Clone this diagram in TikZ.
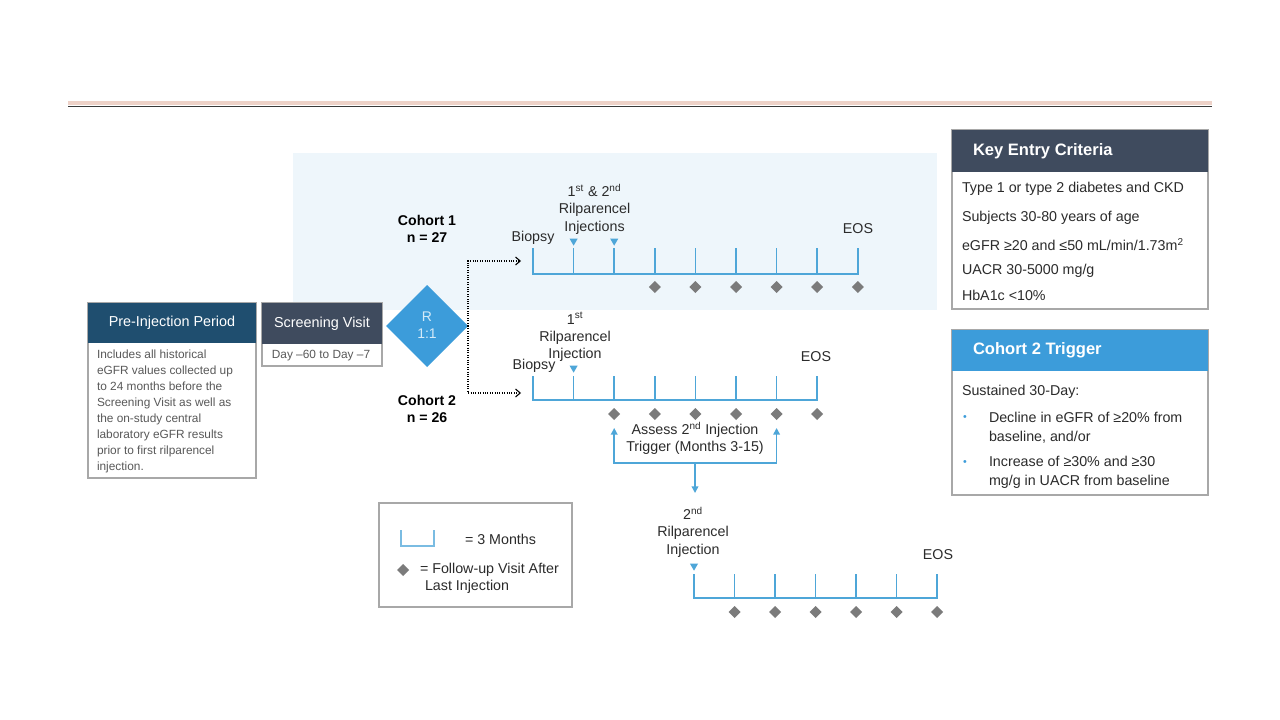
\documentclass[tikz,border=0pt]{standalone}
\usepackage{fontspec}
\setmainfont{Liberation Sans}
\usetikzlibrary{shapes.geometric,arrows.meta}
\definecolor{navyhdr}{HTML}{1F4E6F}
\definecolor{slatehdr}{HTML}{3F4B5E}
\definecolor{rblue}{HTML}{3C9CDA}
\definecolor{tlblue}{HTML}{4EA6D8}
\definecolor{bgblue}{HTML}{EEF6FB}
\definecolor{boxline}{HTML}{A8A8A8}
\definecolor{bodytxt}{HTML}{595959}
\definecolor{darktxt}{HTML}{2B2B2B}
\definecolor{dmdgray}{HTML}{7B7B7B}
\definecolor{pinkband}{HTML}{EED2C8}
\definecolor{ruledark}{HTML}{3A3A3A}
\definecolor{rtext}{HTML}{D4EAF8}
\newcommand\fsz[2]{\fontsize{#1pt}{#2pt}\selectfont}
\begin{document}
\begin{tikzpicture}[x=0.75pt,y=-0.75pt,
 every node/.style={inner sep=0pt,outer sep=0pt},
 boxframe/.style={draw=boxline,line width=0.8pt},
 hdrtext/.style={text=white,font=\fsz{10.8}{13}},
 hdrbold/.style={text=white,font=\bfseries\fsz{12.4}{15}},
 crit/.style={text=darktxt,font=\fsz{10.7}{13},anchor=west},
 tllabel/.style={text=darktxt,font=\fsz{10.7}{13},align=center},
 cohort/.style={text=black,font=\bfseries\fsz{10.6}{12.8},align=center},
 tl/.style={draw=tlblue,line width=1.1pt},
 fup/.style={diamond,fill=dmdgray,minimum width=9pt,minimum height=9pt},
 inj/.style={regular polygon,regular polygon sides=3,shape border rotate=180,fill=tlblue,minimum size=7pt},
 trig/.style={draw=tlblue,line width=1.1pt,-{Triangle[length=5pt,width=5pt]}},
 rand/.style={densely dotted,line width=0.8pt,-{Straight Barb[length=3.5pt,width=6pt]}}
]
\useasboundingbox (0,0) rectangle (1280,720);
\fill[white] (0,0) rectangle (1280,720);
% top rule
\fill[pinkband] (68,101) rectangle (1212,105.5);
\draw[ruledark,line width=1.1pt] (68,106.3) -- (1212,106.3);
% cohort 1 background
\fill[bgblue] (293,153) rectangle (937,310);

% Pre-injection period
\node[boxframe,minimum width=126pt,minimum height=131.25pt,anchor=north west] (preb) at (88,303) {};
\node[fill=navyhdr,minimum width=126pt,minimum height=30pt,anchor=north west,hdrtext] (preh) at (88,303) {Pre-Injection Period};
\node[anchor=north west,align=left,text=bodytxt,font=\fsz{8.9}{12}] (pret) at (97,349.5) {Includes all historical\\eGFR values collected up\\to 24 months before the\\Screening Visit as well as\\the on-study central\\laboratory eGFR results\\prior to first rilparencel\\injection.};

% Screening visit
\node[boxframe,minimum width=90pt,minimum height=47.25pt,anchor=north west] (scrb) at (262,303) {};
\node[fill=slatehdr,minimum width=90pt,minimum height=30.75pt,anchor=north west,hdrtext] (scrh) at (262,303) {Screening Visit};
\node[text=bodytxt,font=\fsz{8.9}{11}] (scrt) at (321,356) {Day –60 to Day –7};

% randomisation
\node[diamond,fill=rblue,minimum width=61.5pt,minimum height=61.5pt] (rdm) at (427,326) {};
\node[text=rtext,font=\fsz{10.5}{13},align=center] (rtxt) at (427,325) {R\\1:1};

\node[cohort] (c1) at (427,228.5) {Cohort 1\\n = 27};
\node[cohort] (c2) at (427,408.5) {Cohort 2\\n = 26};

% randomisation connectors
\coordinate (t1in) at (521,261);
\coordinate (t2in) at (521,393);
\draw[rand] (rdm.east) |- (t1in);
\draw[rand] (rdm.east) |- (t2in);

% timeline 1
\draw[tl] (533,248) -- (533,274) -- (857.8,274) -- (857.8,248);
\foreach \i in {1,...,7} { \draw[tl] (533+\i*40.6,274) -- (533+\i*40.6,248); }
\foreach \i in {3,...,8} { \node[fup] (fa\i) at (533+\i*40.6,287) {}; }
\node[inj] (ia1) at (573.6,241) {};
\node[inj] (ia2) at (614.2,241) {};
\node[tllabel] (inj1) at (594.5,209) {1\textsuperscript{st} \& 2\textsuperscript{nd}\\Rilparencel\\Injections};
\node[tllabel] (bio1) at (533,238) {Biopsy};
\node[tllabel] (eos1) at (858,229) {EOS};

% timeline 2
\draw[tl] (533,376) -- (533,400) -- (817.2,400) -- (817.2,376);
\foreach \i in {1,...,6} { \draw[tl] (533+\i*40.6,400) -- (533+\i*40.6,376); }
\foreach \i in {2,...,7} { \node[fup] (fb\i) at (533+\i*40.6,414) {}; }
\node[inj] (ib1) at (573.6,368) {};
\node[tllabel] (inj2) at (575,337) {1\textsuperscript{st}\\Rilparencel\\Injection};
\node[tllabel] (bio2) at (534,366) {Biopsy};
\node[tllabel] (eos2) at (816,357) {EOS};

% trigger assessment
\node[tllabel] (assess) at (695,438.5) {Assess 2\textsuperscript{nd} Injection\\Trigger (Months 3-15)};
\coordinate (hub) at (695,463);
\coordinate (al) at (614.2,428);
\coordinate (ar) at (776.6,428);
\coordinate (ad) at (695,493);
\draw[trig] (hub) -| (al);
\draw[trig] (hub) -| (ar);
\draw[trig] (hub) -- (ad);

% timeline 3
\draw[tl] (694,574) -- (694,598) -- (937,598) -- (937,574);
\foreach \i in {1,...,5} { \draw[tl] (694+\i*40.5,598) -- (694+\i*40.5,574); }
\foreach \i in {1,...,6} { \node[fup] (fc\i) at (694+\i*40.5,612) {}; }
\node[inj] (ic0) at (694,566) {};
\node[tllabel] (inj3) at (693,532) {2\textsuperscript{nd}\\Rilparencel\\Injection};
\node[tllabel] (eos3) at (938,555) {EOS};

% legend
\node[boxframe,minimum width=144.75pt,minimum height=78pt,anchor=north west] (leg) at (379,503) {};
\draw[draw=tlblue!75,line width=0.9pt] (401,530) -- (401,546) -- (434,546) -- (434,530);
\node[crit] (leg1) at (465,539) {= 3 Months};
\node[fup] (legd) at (403,570) {};
\node[crit] (leg2) at (420,570) {= Follow-up Visit After};
\node[crit] (leg3) at (425,587) {Last Injection};

% key entry criteria
\node[boxframe,minimum width=192pt,minimum height=134.25pt,anchor=north west] (keyb) at (952,130) {};
\node[fill=slatehdr,minimum width=192pt,minimum height=31.5pt,anchor=north west] (keyh) at (952,130) {};
\node[hdrbold,anchor=west] (keyt) at (973,151) {Key Entry Criteria};
\node[crit] (k1) at (962,189) {Type 1 or type 2 diabetes and CKD};
\node[crit] (k2) at (962,217.7) {Subjects 30-80 years of age};
\node[crit] (k3) at (962,244.3) {eGFR ≥20 and ≤50 mL/min/1.73m\textsuperscript{2}};
\node[crit] (k4) at (962,271) {UACR 30-5000 mg/g};
\node[crit] (k5) at (962,295) {HbA1c <10\%};

% cohort 2 trigger
\node[boxframe,minimum width=192pt,minimum height=123.75pt,anchor=north west] (trb) at (952,330) {};
\node[fill=rblue,minimum width=192pt,minimum height=30.75pt,anchor=north west] (trh) at (952,330) {};
\node[hdrbold,anchor=west] (trt) at (973,350) {Cohort 2 Trigger};
\node[crit] (tr0) at (962,392) {Sustained 30-Day:};
\node[text=rblue,font=\fsz{8}{10}] (bl1) at (965,418) {\textbullet};
\node[text=rblue,font=\fsz{8}{10}] (bl2) at (965,463) {\textbullet};
\node[crit,align=left,font=\fsz{10.7}{14.25}] (tr1) at (989,427.5) {Decline in eGFR of ≥20\% from\\baseline, and/or};
\node[crit,align=left,font=\fsz{10.7}{14.25}] (tr2) at (989,472.5) {Increase of ≥30\% and ≥30\\mg/g in UACR from baseline};
\end{tikzpicture}
\end{document}
